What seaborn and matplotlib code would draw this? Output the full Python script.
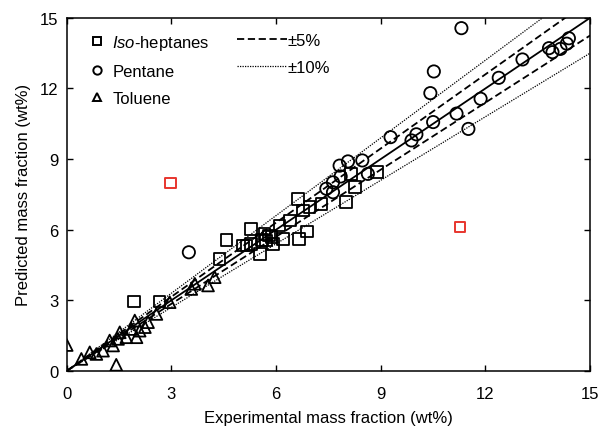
import matplotlib
matplotlib.use("Agg")
import matplotlib.pyplot as plt
from matplotlib.lines import Line2D
import seaborn as sns
import pandas as pd
import numpy as np

# --- data (wt%) ---
heptane_x = [1.92, 2.66, 4.38, 4.58, 5.05, 5.15, 5.29, 5.29, 5.53, 5.60, 5.67, 5.72, 5.80, 5.87,
             5.91, 6.10, 6.20, 6.39, 6.66, 6.89, 6.63, 6.77, 6.96, 7.30, 8.01, 8.25, 8.14, 8.89]
heptane_y = [2.95, 2.95, 4.74, 5.56, 5.33, 5.33, 5.40, 6.03, 4.97, 5.55, 5.82, 5.54, 5.75, 5.68,
             5.40, 6.18, 5.61, 6.39, 5.61, 5.92, 7.31, 6.81, 6.95, 7.10, 7.17, 7.81, 8.37, 8.44]

pentane_x = [3.50, 7.44, 7.63, 7.63, 7.82, 7.85, 8.06, 8.47, 8.63, 9.28, 9.88, 10.02, 10.42,
             10.50, 10.52, 11.17, 11.31, 11.51, 11.86, 12.38, 13.06, 13.82, 13.92, 14.15, 14.33, 14.39]
pentane_y = [5.04, 7.74, 7.59, 8.01, 8.72, 8.26, 8.90, 8.94, 8.37, 9.93, 9.79, 10.05, 11.80,
             10.57, 12.72, 10.93, 14.56, 10.28, 11.56, 12.45, 13.23, 13.71, 13.54, 13.68, 13.90, 14.13]

toluene_x = [0.0, 0.42, 0.66, 0.85, 1.04, 1.23, 1.33, 1.42, 1.47, 1.52, 1.71, 1.85, 2.00, 1.95,
             2.09, 2.24, 2.33, 2.57, 2.95, 3.57, 3.67, 4.05, 4.24]
toluene_y = [1.10, 0.51, 0.79, 0.72, 0.86, 1.29, 1.08, 0.26, 1.36, 1.64, 1.43, 1.78, 1.43, 2.14,
             1.71, 1.86, 2.07, 2.42, 2.92, 3.48, 3.70, 3.63, 3.98]

outlier_x = [2.97, 11.26]
outlier_y = [7.99, 6.12]

ticks = [0, 3, 6, 9, 12, 15]
bands = {"±5%": 0.05, "±10%": 0.10}

plt.rcParams['font.family'] = ['Liberation Sans', 'DejaVu Sans']
plt.rcParams['mathtext.fontset'] = 'custom'
plt.rcParams['mathtext.rm'] = 'Liberation Sans'
plt.rcParams['mathtext.it'] = 'Liberation Sans:italic'

fig = plt.figure(figsize=(6.01, 4.27), dpi=100)
ax = fig.add_axes([0.111, 0.129, 0.871, 0.827])

DASH = (0, (4, 2))
DOT = (0, (1, 1))

# parity line and error bands
line_x = np.array([0, 15])
sns.lineplot(x=line_x, y=line_x, ax=ax, color='black', lw=1.3, zorder=2)
for lbl, f in bands.items():
    style = DASH if f == 0.05 else DOT
    lw = 1.3 if f == 0.05 else 0.9
    for k in (1 + f, 1 - f):
        sns.lineplot(x=line_x, y=line_x * k, ax=ax, color='black', lw=lw, linestyle=style, zorder=2)

groups = [
    (heptane_x, heptane_y, 's', 72),
    (pentane_x, pentane_y, 'o', 78),
    (toluene_x, toluene_y, '^', 72),
]
for xs, ys, mk, sz in groups:
    df = pd.DataFrame({'x': xs, 'y': ys})
    sns.scatterplot(data=df, x='x', y='y', ax=ax, marker=mk, s=sz,
                    facecolor='none', edgecolor='black', linewidth=1.3, zorder=3)

sns.scatterplot(x=outlier_x, y=outlier_y, ax=ax, marker='s', s=55,
                facecolor='none', edgecolor='#e8352e', linewidth=1.4, zorder=3)

ax.set_xlim(0, 15)
ax.set_ylim(0, 15)
ax.set_xticks(ticks)
ax.set_yticks(ticks)
ax.tick_params(direction='in', top=True, right=True, length=4, width=1.0,
               labelsize=12, pad=6)
ax.tick_params(axis='x', pad=11)
for s in ax.spines.values():
    s.set_linewidth(1.1)
ax.set_xlabel('Experimental mass fraction (wt%)', fontsize=12, labelpad=6)
ax.set_ylabel('Predicted mass fraction (wt%)', fontsize=12, labelpad=6)

# two legends: short handles for markers, long handles for the bands
mk_handles = [
    Line2D([], [], marker='s', ls='none', mfc='none', mec='black', ms=6, mew=1.4),
    Line2D([], [], marker='o', ls='none', mfc='none', mec='black', ms=6, mew=1.4),
    Line2D([], [], marker='^', ls='none', mfc='none', mec='black', ms=6, mew=1.4),
]
mk_labels = ['$\\mathit{Iso}$-heptanes', 'Pentane', 'Toluene']
leg1 = ax.legend(mk_handles, mk_labels, frameon=False, fontsize=12, loc='upper left',
                 bbox_to_anchor=(0.033, 0.975), handlelength=0.8, handletextpad=0.5,
                 labelspacing=0.7, borderaxespad=0.0)
ax.add_artist(leg1)

ln_handles = [
    Line2D([], [], color='black', lw=1.3, ls=DASH),
    Line2D([], [], color='black', lw=0.9, ls=DOT),
]
ax.legend(ln_handles, list(bands.keys()), frameon=False, fontsize=12, loc='upper left',
          bbox_to_anchor=(0.313, 0.975), handlelength=3.0, handletextpad=0.02,
          labelspacing=0.7, borderaxespad=0.0)

fig.savefig('out.png', dpi=100)
